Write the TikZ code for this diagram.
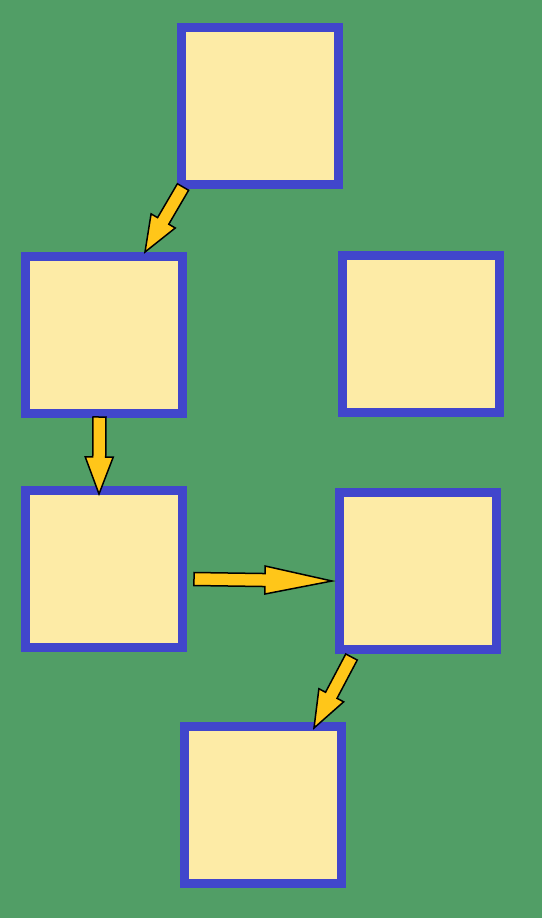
\documentclass[tikz,border=0pt]{standalone}
\usetikzlibrary{calc}
\definecolor{bggreen}{RGB}{81,158,102}
\definecolor{boxfill}{RGB}{253,235,166}
\definecolor{boxline}{RGB}{65,70,204}
\definecolor{arrowfill}{RGB}{255,198,25}
\tikzset{
  card/.style={draw=boxline, fill=boxfill, line width=9pt, rectangle,
    minimum width=157pt, minimum height=157pt, inner sep=0pt},
  blk/.style={draw=black, fill=arrowfill, line width=1.5pt, line join=miter},
}
% tail, tip, head length
\newcommand\blkarrow[3]{%
  \coordinate (hb) at ($(#2)!#3!(#1)$);
  \draw[blk] ($(#1)!6.5pt!90:(#2)$) -- ($(hb)!6.5pt!90:(#2)$)
    -- ($(hb)!14pt!90:(#2)$) -- (#2) -- ($(hb)!14pt!-90:(#2)$)
    -- ($(hb)!6.5pt!-90:(#2)$) -- ($(#1)!6.5pt!-90:(#2)$) -- cycle;
}
\begin{document}
\begin{tikzpicture}[x=1pt,y=-1pt]
  \fill[bggreen] (0,0) rectangle (542,918);
  \useasboundingbox (0,0) rectangle (542,918);
  \node[card] (b1) at (260,106) {};
  \node[card] (b2) at (103.5,335) {};
  \node[card] (b3) at (420.5,334) {};
  \node[card] (b4) at (104,568.5) {};
  \node[card] (b5) at (417.5,570.5) {};
  \node[card] (b6) at (263,804.5) {};
  \coordinate (t1) at (183,187);   \coordinate (p1) at (145,252);
  \coordinate (t2) at (99.5,417);  \coordinate (p2) at (99,494);
  \coordinate (t3) at (194,579);   \coordinate (p3) at (332,581);
  \coordinate (t4) at (351.5,657); \coordinate (p4) at (314,728);
  \blkarrow{t1}{p1}{36pt}
  \blkarrow{t2}{p2}{37pt}
  \blkarrow{t3}{p3}{67pt}
  \blkarrow{t4}{p4}{37pt}
\end{tikzpicture}
\end{document}
